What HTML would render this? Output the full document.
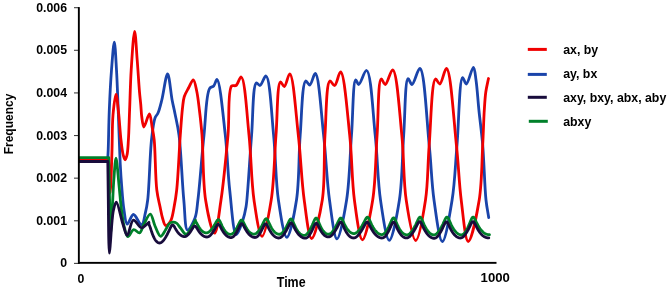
<!DOCTYPE html>
<html><head><meta charset="utf-8"><style>
html,body{margin:0;padding:0;background:#fff;}
body{width:670px;height:291px;overflow:hidden;}
svg{display:block;will-change:transform;}
text{font-family:"Liberation Sans",sans-serif;fill:#000;}
</style></head><body>
<svg width="670" height="291" viewBox="0 0 670 291">
<rect width="670" height="291" fill="#fff"/>
<g fill="none" stroke-width="2.8" stroke-linejoin="round" stroke-linecap="round">
<path d="M79.50,161.00 C88.87,161.00 98.23,161.00 107.60,161.00 L107.60,161.00 C107.80,157.33 108.00,154.81 108.20,150.00 C108.58,140.83 108.75,123.33 109.30,110.00 C109.85,96.66 110.56,82.11 111.50,70.00 C112.29,59.88 113.47,42.19 114.30,42.20 C115.13,42.21 115.89,59.89 116.50,70.00 C117.24,82.12 117.71,97.62 118.20,110.00 C118.62,120.72 118.93,130.46 119.30,140.00 C119.63,148.71 119.89,157.13 120.30,165.00 C120.67,172.04 121.03,177.97 121.60,185.00 C122.23,192.87 122.86,202.87 124.00,210.00 C124.87,215.43 125.47,223.90 127.20,224.20 C128.74,224.47 131.10,214.61 133.40,214.50 C135.87,214.38 139.62,225.36 141.60,225.00 C143.47,224.67 144.21,217.68 145.20,213.70 C146.28,209.39 146.94,206.21 147.70,200.00 C149.28,187.10 149.83,155.06 151.50,140.00 C152.52,130.83 153.31,122.64 155.00,118.00 C155.86,115.63 157.07,115.13 158.00,113.00 C159.42,109.75 160.49,105.10 161.80,100.00 C163.64,92.84 165.88,73.96 167.60,74.00 C169.31,74.04 170.70,92.72 172.10,100.00 C173.12,105.30 173.99,108.63 175.00,113.70 C176.26,120.01 177.82,125.93 179.00,135.00 C181.05,150.73 182.07,182.49 183.80,200.00 C184.98,211.93 184.83,229.41 187.50,230.00 C189.33,230.40 193.27,222.60 195.00,218.00 C196.96,212.78 196.90,207.88 197.90,200.00 C199.80,185.08 201.87,154.84 204.00,135.00 C205.80,118.19 205.91,94.23 209.60,88.50 C210.78,86.67 212.55,87.25 213.70,86.00 C215.12,84.46 215.93,79.33 217.00,79.50 C219.98,79.98 223.18,116.51 225.30,135.00 C227.40,153.34 227.73,172.65 229.70,190.00 C231.49,205.70 233.19,234.25 236.30,234.70 C238.10,234.96 240.98,225.67 242.60,221.00 C244.19,216.43 245.16,211.92 246.00,207.00 C246.91,201.64 247.08,197.29 247.70,190.00 C248.82,176.90 250.14,153.07 251.60,135.00 C253.02,117.42 252.68,84.72 256.30,83.00 C257.36,82.50 258.76,85.76 260.00,85.50 C261.97,85.09 264.27,75.62 266.00,76.00 C269.98,76.88 271.56,114.83 273.60,135.00 C275.74,156.11 275.64,181.40 278.40,200.00 C280.52,214.27 283.79,237.35 286.80,237.40 C289.82,237.45 294.26,214.30 296.50,200.00 C299.41,181.43 298.56,155.65 300.20,135.00 C301.70,116.15 302.07,82.32 305.70,81.00 C306.88,80.57 308.49,85.23 309.80,85.00 C311.76,84.65 313.65,73.24 315.30,73.50 C318.95,74.07 321.25,114.19 323.60,135.00 C326.01,156.34 326.83,181.17 329.50,200.00 C331.58,214.65 334.16,238.73 337.00,238.80 C339.86,238.87 344.24,214.70 346.60,200.00 C349.61,181.22 349.93,155.78 351.50,135.00 C352.95,115.85 352.97,80.49 355.70,79.80 C356.57,79.58 357.50,84.53 358.70,84.50 C360.74,84.44 364.37,70.07 366.60,70.50 C371.09,71.37 372.88,113.43 375.20,135.00 C377.52,156.60 377.67,180.98 380.50,200.00 C382.76,215.14 386.16,240.35 389.30,240.40 C392.45,240.45 397.02,215.18 399.40,200.00 C402.38,181.01 402.19,155.88 403.70,135.00 C405.10,115.56 404.98,79.52 408.10,78.70 C409.20,78.41 410.57,84.60 412.00,84.50 C414.29,84.35 417.64,68.11 419.90,68.50 C424.60,69.30 426.76,121.58 429.20,145.00 C431.27,164.82 431.57,183.02 434.00,200.00 C436.13,214.87 439.29,241.45 442.30,241.50 C445.32,241.55 449.69,214.90 452.10,200.00 C454.84,183.05 455.34,164.26 457.00,145.00 C458.83,123.70 459.32,78.45 462.60,77.70 C463.68,77.45 464.96,84.09 466.30,84.00 C468.41,83.86 471.76,67.14 473.40,67.30 C474.79,67.44 475.23,74.85 476.00,80.00 C477.18,87.86 477.83,99.62 478.90,110.00 C480.05,121.22 481.61,132.01 482.70,145.00 C484.07,161.26 484.59,186.80 486.00,200.00 C486.80,207.48 487.80,211.67 488.70,217.50" stroke="#1a44aa"/>
<path d="M79.50,159.50 C89.17,159.50 98.83,159.50 108.50,159.50 L108.50,159.50 C108.87,168.00 109.24,178.90 109.60,185.00 C109.80,188.42 110.00,193.00 110.20,193.00 C110.46,193.00 110.75,185.23 111.00,180.00 C111.38,172.06 111.68,160.39 112.00,150.00 C112.35,138.78 112.12,125.09 113.00,115.00 C113.68,107.24 115.05,94.50 116.00,94.50 C116.88,94.50 117.74,105.47 118.50,112.00 C119.45,120.23 120.07,132.12 121.00,140.00 C121.68,145.79 122.24,151.43 123.20,155.00 C123.76,157.09 124.47,159.80 125.10,159.80 C125.73,159.80 126.50,157.09 127.00,155.00 C127.85,151.43 128.01,145.86 128.40,140.00 C128.95,131.72 129.17,120.72 129.60,110.00 C130.10,97.62 130.36,83.21 131.20,70.00 C132.03,56.98 133.53,31.30 134.60,31.30 C135.52,31.30 136.40,50.17 137.20,60.00 C138.04,70.37 138.79,83.70 139.50,92.00 C139.96,97.30 140.41,100.75 140.80,105.00 C141.17,109.08 141.24,113.20 141.80,117.00 C142.31,120.50 142.80,126.89 143.90,127.00 C145.19,127.12 148.01,113.86 149.40,114.00 C150.77,114.13 151.39,123.08 152.20,127.50 C152.98,131.74 153.61,134.42 154.20,140.00 C155.37,151.09 155.29,177.65 156.80,190.00 C157.70,197.37 159.15,202.41 160.20,207.50 C161.02,211.45 161.53,214.83 162.50,218.00 C163.34,220.75 164.16,224.99 165.50,225.50 C166.36,225.83 167.61,224.81 168.50,224.00 C169.61,222.99 170.50,221.45 171.30,219.50 C172.52,216.54 173.17,211.89 174.00,207.50 C175.00,202.23 175.88,197.48 176.70,190.00 C178.15,176.80 179.19,150.10 180.30,135.00 C181.08,124.41 181.66,115.10 182.50,108.00 C183.05,103.35 183.17,100.02 184.30,96.50 C185.35,93.23 187.25,90.36 188.80,87.50 C190.26,84.81 192.04,79.65 193.30,79.80 C194.75,79.97 195.76,86.73 196.70,91.00 C197.91,96.46 198.57,103.22 199.40,110.00 C200.35,117.75 201.18,124.70 202.00,135.00 C203.32,151.58 202.73,182.06 205.60,200.00 C207.69,213.03 211.93,233.29 214.50,233.20 C217.05,233.11 219.04,212.96 221.00,200.00 C223.73,181.99 226.18,155.15 228.00,135.00 C229.58,117.53 227.57,90.20 231.60,86.00 C232.81,84.74 234.66,86.36 236.00,85.50 C238.01,84.22 239.66,76.68 241.20,77.00 C244.93,77.79 246.90,115.09 249.00,135.00 C251.22,156.02 251.27,181.55 254.00,200.00 C256.06,213.93 259.14,236.26 262.00,236.30 C264.87,236.34 268.93,213.96 271.20,200.00 C274.19,181.58 274.39,155.56 276.00,135.00 C277.46,116.43 277.12,83.07 280.40,82.00 C281.50,81.64 283.04,86.69 284.30,86.50 C286.22,86.20 288.12,73.57 289.80,73.80 C293.34,74.28 295.92,114.26 298.30,135.00 C300.75,156.31 301.55,181.21 304.20,200.00 C306.26,214.56 308.60,238.38 311.60,238.50 C314.63,238.62 319.99,214.66 322.30,200.00 C325.25,181.30 323.64,155.65 325.00,135.00 C326.25,116.15 326.12,82.42 329.90,81.00 C331.21,80.51 333.13,85.79 334.60,85.50 C336.82,85.06 338.78,71.75 340.60,72.00 C344.39,72.52 347.40,113.79 349.70,135.00 C352.02,156.46 351.82,181.05 354.40,200.00 C356.44,214.96 359.36,239.72 362.40,239.80 C365.46,239.88 370.27,215.01 372.70,200.00 C375.76,181.10 375.63,155.86 377.10,135.00 C378.46,115.64 377.95,79.95 381.20,79.00 C382.34,78.67 383.84,84.63 385.30,84.50 C387.55,84.30 390.55,69.44 392.70,69.80 C397.00,70.51 399.55,113.24 401.80,135.00 C404.04,156.64 403.35,180.99 406.20,200.00 C408.48,215.19 412.48,240.49 415.70,240.50 C418.92,240.51 423.25,214.63 425.50,200.00 C428.08,183.17 427.64,164.16 429.20,145.00 C430.91,123.99 431.54,80.26 435.50,79.00 C436.75,78.60 438.38,84.22 439.80,84.00 C442.07,83.65 444.49,68.22 446.50,68.50 C450.80,69.10 453.86,121.57 456.40,145.00 C458.55,164.82 459.03,183.00 461.20,200.00 C463.10,214.85 465.22,241.36 468.20,241.50 C471.21,241.64 476.77,214.93 479.20,200.00 C481.95,183.08 481.81,161.27 482.70,145.00 C483.41,132.02 483.67,119.74 484.30,110.00 C484.75,103.01 485.02,97.55 485.80,92.00 C486.48,87.16 487.60,83.00 488.50,78.50" stroke="#f00000"/>
<path d="M79.50,157.60 C89.27,157.60 99.03,157.60 108.80,157.60 L108.80,157.60 C109.07,171.73 109.27,186.75 109.60,200.00 C109.89,211.69 110.10,232.99 110.60,233.00 C111.02,233.01 111.70,218.18 112.20,210.00 C112.77,200.67 113.09,189.20 113.80,180.00 C114.41,172.15 115.19,158.20 116.00,158.20 C116.90,158.20 118.07,176.22 119.00,185.00 C119.90,193.48 120.48,202.36 121.50,210.00 C122.37,216.51 123.15,223.17 124.50,228.00 C125.46,231.42 126.36,236.25 127.90,236.50 C129.43,236.75 131.60,229.98 133.70,229.60 C135.51,229.28 137.88,233.39 139.50,232.90 C141.47,232.30 142.29,227.00 144.00,224.00 C145.85,220.74 148.49,213.93 150.30,214.10 C152.19,214.28 153.24,222.23 155.00,226.00 C156.69,229.61 158.67,236.14 160.60,236.30 C162.19,236.43 164.00,232.16 165.50,230.00 C166.96,227.89 167.97,224.76 169.50,223.50 C170.57,222.62 171.83,222.25 173.00,222.20 C174.16,222.16 175.40,222.48 176.50,223.20 C177.94,224.14 179.05,226.30 180.50,228.00 C182.18,229.97 184.24,234.27 186.00,234.30 C187.56,234.33 189.08,231.47 190.50,229.50 C192.30,227.00 193.83,223.30 195.50,220.20 L195.50,221.39 L195.75,221.69 L196.01,222.03 L196.26,222.40 L196.51,222.80 L196.77,223.23 L197.02,223.67 L197.27,224.13 L197.53,224.59 L197.78,225.04 L198.03,225.50 L198.29,225.94 L198.54,226.38 L198.79,226.80 L199.05,227.21 L199.30,227.61 L199.55,227.99 L199.81,228.35 L200.06,228.71 L200.31,229.04 L200.57,229.36 L200.82,229.67 L201.07,229.96 L201.33,230.23 L201.58,230.50 L201.83,230.74 L202.09,230.98 L202.34,231.20 L202.59,231.40 L202.85,231.59 L203.10,231.77 L203.35,231.94 L203.61,232.09 L203.86,232.22 L204.11,232.35 L204.37,232.46 L204.62,232.56 L204.87,232.65 L205.13,232.72 L205.38,232.78 L205.63,232.83 L205.89,232.86 L206.14,232.88 L206.39,232.88 L206.65,232.86 L206.90,232.83 L207.15,232.78 L207.41,232.71 L207.66,232.62 L207.92,232.52 L208.17,232.39 L208.43,232.25 L208.68,232.09 L208.93,231.92 L209.19,231.73 L209.44,231.52 L209.70,231.30 L209.95,231.07 L210.21,230.82 L210.46,230.56 L210.72,230.28 L210.97,230.00 L211.22,229.70 L211.48,229.39 L211.73,229.07 L211.99,228.74 L212.24,228.40 L212.50,228.05 L212.75,227.69 L213.00,227.32 L213.26,226.94 L213.51,226.56 L213.77,226.16 L214.02,225.75 L214.28,225.34 L214.53,224.91 L214.78,224.48 L215.04,224.04 L215.29,223.59 L215.55,223.14 L215.80,222.69 L216.06,222.25 L216.31,221.81 L216.57,221.38 L216.82,220.98 L217.07,220.61 L217.33,220.28 L217.58,220.01 L217.84,219.81 L218.09,219.68 L218.35,219.64 L218.60,219.69 L218.85,219.82 L219.11,220.04 L219.36,220.35 L219.61,220.72 L219.87,221.16 L220.12,221.64 L220.37,222.16 L220.62,222.71 L220.88,223.27 L221.13,223.83 L221.38,224.39 L221.64,224.94 L221.89,225.49 L222.14,226.02 L222.40,226.53 L222.65,227.03 L222.90,227.51 L223.16,227.98 L223.41,228.42 L223.66,228.85 L223.91,229.26 L224.17,229.66 L224.42,230.03 L224.67,230.39 L224.93,230.74 L225.18,231.07 L225.43,231.38 L225.69,231.67 L225.94,231.95 L226.19,232.21 L226.44,232.46 L226.70,232.69 L226.95,232.90 L227.20,233.10 L227.46,233.29 L227.71,233.46 L227.96,233.62 L228.22,233.76 L228.47,233.88 L228.72,233.99 L228.98,234.09 L229.23,234.17 L229.48,234.24 L229.73,234.29 L229.99,234.32 L230.24,234.34 L230.49,234.33 L230.75,234.31 L231.00,234.27 L231.25,234.20 L231.50,234.12 L231.76,234.01 L232.01,233.88 L232.26,233.72 L232.51,233.55 L232.77,233.35 L233.02,233.13 L233.27,232.89 L233.52,232.64 L233.78,232.36 L234.03,232.07 L234.28,231.76 L234.53,231.44 L234.79,231.10 L235.04,230.74 L235.29,230.37 L235.54,229.99 L235.80,229.59 L236.05,229.18 L236.30,228.76 L236.55,228.33 L236.80,227.88 L237.06,227.42 L237.31,226.95 L237.56,226.46 L237.81,225.97 L238.07,225.47 L238.32,224.95 L238.57,224.44 L238.82,223.91 L239.08,223.39 L239.33,222.88 L239.58,222.38 L239.83,221.90 L240.09,221.45 L240.34,221.04 L240.59,220.69 L240.84,220.41 L241.10,220.20 L241.35,220.08 L241.60,220.06 L241.85,220.12 L242.10,220.27 L242.35,220.51 L242.60,220.83 L242.85,221.20 L243.10,221.63 L243.35,222.10 L243.60,222.60 L243.85,223.11 L244.10,223.63 L244.35,224.15 L244.60,224.66 L244.85,225.17 L245.10,225.67 L245.35,226.15 L245.60,226.62 L245.85,227.08 L246.10,227.52 L246.35,227.95 L246.60,228.36 L246.85,228.75 L247.10,229.13 L247.35,229.50 L247.60,229.85 L247.85,230.19 L248.10,230.51 L248.35,230.82 L248.60,231.11 L248.85,231.39 L249.10,231.65 L249.35,231.90 L249.60,232.14 L249.85,232.36 L250.10,232.57 L250.35,232.77 L250.60,232.95 L250.85,233.13 L251.10,233.28 L251.35,233.43 L251.60,233.56 L251.85,233.68 L252.10,233.79 L252.35,233.88 L252.60,233.97 L252.85,234.03 L253.10,234.09 L253.35,234.13 L253.60,234.16 L253.85,234.17 L254.10,234.16 L254.35,234.14 L254.60,234.10 L254.85,234.04 L255.11,233.96 L255.36,233.85 L255.62,233.73 L255.87,233.59 L256.13,233.43 L256.38,233.24 L256.63,233.04 L256.89,232.82 L257.14,232.58 L257.40,232.33 L257.65,232.06 L257.91,231.77 L258.16,231.47 L258.42,231.16 L258.67,230.83 L258.92,230.49 L259.18,230.14 L259.43,229.77 L259.69,229.39 L259.94,229.00 L260.20,228.60 L260.45,228.18 L260.70,227.76 L260.96,227.32 L261.21,226.87 L261.47,226.42 L261.72,225.95 L261.98,225.47 L262.23,224.98 L262.48,224.48 L262.74,223.98 L262.99,223.47 L263.25,222.95 L263.50,222.43 L263.76,221.91 L264.01,221.40 L264.27,220.91 L264.52,220.43 L264.77,219.99 L265.03,219.60 L265.28,219.26 L265.54,219.00 L265.79,218.81 L266.05,218.71 L266.30,218.70 L266.55,218.79 L266.81,218.97 L267.06,219.23 L267.31,219.58 L267.57,219.98 L267.82,220.44 L268.08,220.94 L268.33,221.47 L268.58,222.01 L268.84,222.56 L269.09,223.12 L269.34,223.66 L269.60,224.21 L269.85,224.73 L270.11,225.25 L270.36,225.75 L270.61,226.24 L270.87,226.71 L271.12,227.17 L271.37,227.61 L271.63,228.04 L271.88,228.45 L272.14,228.84 L272.39,229.23 L272.64,229.59 L272.90,229.94 L273.15,230.28 L273.40,230.60 L273.66,230.91 L273.91,231.20 L274.16,231.48 L274.42,231.75 L274.67,232.00 L274.93,232.24 L275.18,232.46 L275.43,232.67 L275.69,232.87 L275.94,233.05 L276.19,233.22 L276.45,233.38 L276.70,233.53 L276.96,233.66 L277.21,233.78 L277.46,233.89 L277.72,233.98 L277.97,234.06 L278.22,234.13 L278.48,234.19 L278.73,234.23 L278.99,234.25 L279.24,234.26 L279.49,234.25 L279.75,234.23 L280.00,234.18 L280.25,234.11 L280.50,234.02 L280.76,233.91 L281.01,233.78 L281.26,233.63 L281.51,233.45 L281.77,233.26 L282.02,233.04 L282.27,232.81 L282.52,232.55 L282.77,232.28 L283.03,231.99 L283.28,231.68 L283.53,231.36 L283.78,231.02 L284.04,230.67 L284.29,230.30 L284.54,229.92 L284.79,229.53 L285.05,229.12 L285.30,228.70 L285.55,228.27 L285.80,227.82 L286.05,227.37 L286.31,226.90 L286.56,226.42 L286.81,225.93 L287.06,225.43 L287.32,224.91 L287.57,224.39 L287.82,223.86 L288.07,223.33 L288.33,222.79 L288.58,222.25 L288.83,221.72 L289.08,221.21 L289.33,220.72 L289.59,220.27 L289.84,219.86 L290.09,219.51 L290.34,219.23 L290.60,219.04 L290.85,218.94 L291.10,218.94 L291.35,219.04 L291.61,219.23 L291.86,219.52 L292.11,219.88 L292.37,220.31 L292.62,220.80 L292.88,221.33 L293.13,221.89 L293.38,222.47 L293.64,223.05 L293.89,223.64 L294.14,224.22 L294.40,224.79 L294.65,225.35 L294.91,225.90 L295.16,226.43 L295.41,226.95 L295.67,227.45 L295.92,227.93 L296.17,228.40 L296.43,228.85 L296.68,229.29 L296.94,229.71 L297.19,230.11 L297.44,230.50 L297.70,230.87 L297.95,231.23 L298.20,231.57 L298.46,231.90 L298.71,232.21 L298.96,232.50 L299.22,232.78 L299.47,233.05 L299.73,233.30 L299.98,233.54 L300.23,233.76 L300.49,233.97 L300.74,234.17 L300.99,234.35 L301.25,234.52 L301.50,234.67 L301.76,234.81 L302.01,234.94 L302.26,235.05 L302.52,235.15 L302.77,235.24 L303.02,235.31 L303.28,235.37 L303.53,235.41 L303.79,235.44 L304.04,235.44 L304.29,235.43 L304.55,235.41 L304.80,235.35 L305.05,235.28 L305.31,235.18 L305.56,235.07 L305.81,234.92 L306.07,234.76 L306.32,234.57 L306.57,234.35 L306.83,234.12 L307.08,233.86 L307.33,233.58 L307.59,233.29 L307.84,232.97 L308.09,232.64 L308.35,232.29 L308.60,231.92 L308.85,231.54 L309.11,231.14 L309.36,230.73 L309.61,230.30 L309.87,229.86 L310.12,229.41 L310.37,228.94 L310.63,228.46 L310.88,227.96 L311.13,227.45 L311.39,226.93 L311.64,226.40 L311.89,225.85 L312.15,225.30 L312.40,224.73 L312.65,224.15 L312.91,223.56 L313.16,222.97 L313.41,222.38 L313.67,221.78 L313.92,221.20 L314.17,220.63 L314.43,220.08 L314.68,219.58 L314.93,219.12 L315.19,218.73 L315.44,218.42 L315.69,218.19 L315.95,218.07 L316.20,218.05 L316.45,218.13 L316.70,218.32 L316.95,218.61 L317.20,218.98 L317.45,219.43 L317.71,219.93 L317.96,220.48 L318.21,221.06 L318.46,221.65 L318.71,222.26 L318.96,222.87 L319.21,223.47 L319.46,224.06 L319.71,224.63 L319.96,225.19 L320.22,225.74 L320.47,226.27 L320.72,226.78 L320.97,227.27 L321.22,227.74 L321.47,228.20 L321.72,228.63 L321.97,229.05 L322.22,229.46 L322.47,229.84 L322.73,230.21 L322.98,230.56 L323.23,230.89 L323.48,231.21 L323.73,231.51 L323.98,231.80 L324.23,232.06 L324.48,232.31 L324.73,232.55 L324.98,232.77 L325.24,232.97 L325.49,233.16 L325.74,233.34 L325.99,233.50 L326.24,233.64 L326.49,233.77 L326.74,233.88 L326.99,233.98 L327.24,234.07 L327.49,234.13 L327.75,234.19 L328.00,234.22 L328.25,234.24 L328.50,234.24 L328.75,234.22 L329.00,234.18 L329.25,234.13 L329.51,234.05 L329.76,233.95 L330.01,233.82 L330.27,233.68 L330.52,233.52 L330.77,233.33 L331.03,233.13 L331.28,232.91 L331.53,232.67 L331.79,232.41 L332.04,232.14 L332.29,231.85 L332.54,231.55 L332.80,231.23 L333.05,230.90 L333.30,230.56 L333.56,230.20 L333.81,229.83 L334.06,229.45 L334.32,229.06 L334.57,228.65 L334.82,228.23 L335.08,227.80 L335.33,227.36 L335.58,226.91 L335.84,226.45 L336.09,225.98 L336.34,225.50 L336.60,225.01 L336.85,224.50 L337.10,223.99 L337.36,223.47 L337.61,222.95 L337.86,222.41 L338.11,221.88 L338.37,221.35 L338.62,220.83 L338.87,220.32 L339.13,219.83 L339.38,219.38 L339.63,218.97 L339.89,218.63 L340.14,218.35 L340.39,218.15 L340.65,218.04 L340.90,218.03 L341.15,218.11 L341.40,218.28 L341.66,218.55 L341.91,218.88 L342.16,219.29 L342.41,219.75 L342.66,220.24 L342.91,220.77 L343.17,221.31 L343.42,221.86 L343.67,222.42 L343.92,222.97 L344.17,223.51 L344.43,224.03 L344.68,224.55 L344.93,225.05 L345.18,225.54 L345.43,226.01 L345.69,226.47 L345.94,226.91 L346.19,227.34 L346.44,227.75 L346.69,228.14 L346.94,228.53 L347.20,228.89 L347.45,229.24 L347.70,229.58 L347.95,229.90 L348.20,230.21 L348.46,230.50 L348.71,230.78 L348.96,231.05 L349.21,231.30 L349.46,231.54 L349.71,231.76 L349.97,231.97 L350.22,232.17 L350.47,232.35 L350.72,232.52 L350.97,232.68 L351.23,232.83 L351.48,232.96 L351.73,233.08 L351.98,233.19 L352.23,233.28 L352.49,233.37 L352.74,233.44 L352.99,233.49 L353.24,233.54 L353.49,233.57 L353.74,233.58 L354.00,233.58 L354.25,233.57 L354.50,233.53 L354.75,233.48 L355.00,233.41 L355.26,233.33 L355.51,233.22 L355.76,233.10 L356.01,232.96 L356.26,232.81 L356.52,232.63 L356.77,232.45 L357.02,232.24 L357.27,232.02 L357.52,231.79 L357.77,231.55 L358.03,231.29 L358.28,231.02 L358.53,230.74 L358.78,230.45 L359.03,230.14 L359.29,229.83 L359.54,229.50 L359.79,229.17 L360.04,228.82 L360.29,228.47 L360.55,228.10 L360.80,227.73 L361.05,227.35 L361.30,226.95 L361.55,226.55 L361.81,226.14 L362.06,225.72 L362.31,225.30 L362.56,224.86 L362.81,224.42 L363.07,223.96 L363.32,223.50 L363.57,223.03 L363.82,222.56 L364.07,222.08 L364.33,221.59 L364.58,221.10 L364.83,220.61 L365.08,220.12 L365.33,219.64 L365.58,219.18 L365.84,218.74 L366.09,218.33 L366.34,217.97 L366.59,217.67 L366.84,217.43 L367.10,217.27 L367.35,217.20 L367.60,217.22 L367.85,217.33 L368.11,217.53 L368.36,217.81 L368.61,218.17 L368.86,218.59 L369.12,219.07 L369.37,219.58 L369.62,220.12 L369.87,220.68 L370.13,221.24 L370.38,221.81 L370.63,222.38 L370.88,222.93 L371.14,223.48 L371.39,224.01 L371.64,224.54 L371.89,225.05 L372.15,225.54 L372.40,226.02 L372.65,226.49 L372.90,226.94 L373.16,227.38 L373.41,227.80 L373.66,228.21 L373.91,228.61 L374.17,228.99 L374.42,229.36 L374.67,229.72 L374.92,230.06 L375.18,230.39 L375.43,230.71 L375.68,231.01 L375.93,231.30 L376.19,231.57 L376.44,231.84 L376.69,232.09 L376.94,232.33 L377.20,232.55 L377.45,232.77 L377.70,232.97 L377.95,233.16 L378.21,233.33 L378.46,233.50 L378.71,233.65 L378.96,233.79 L379.22,233.93 L379.47,234.04 L379.72,234.15 L379.97,234.25 L380.23,234.33 L380.48,234.41 L380.73,234.47 L380.98,234.51 L381.24,234.55 L381.49,234.57 L381.74,234.57 L381.99,234.55 L382.25,234.52 L382.50,234.46 L382.75,234.39 L383.00,234.29 L383.26,234.17 L383.51,234.03 L383.76,233.86 L384.01,233.67 L384.27,233.46 L384.52,233.22 L384.77,232.97 L385.02,232.69 L385.27,232.40 L385.53,232.08 L385.78,231.75 L386.03,231.40 L386.28,231.04 L386.54,230.66 L386.79,230.26 L387.04,229.85 L387.29,229.42 L387.55,228.98 L387.80,228.53 L388.05,228.06 L388.30,227.58 L388.55,227.09 L388.81,226.58 L389.06,226.06 L389.31,225.53 L389.56,224.99 L389.82,224.43 L390.07,223.87 L390.32,223.29 L390.57,222.72 L390.83,222.13 L391.08,221.55 L391.33,220.98 L391.58,220.42 L391.83,219.89 L392.09,219.39 L392.34,218.94 L392.59,218.55 L392.84,218.24 L393.10,218.02 L393.35,217.89 L393.60,217.87 L393.85,217.95 L394.11,218.13 L394.36,218.40 L394.61,218.76 L394.86,219.19 L395.12,219.68 L395.37,220.22 L395.62,220.78 L395.87,221.36 L396.13,221.96 L396.38,222.55 L396.63,223.14 L396.89,223.73 L397.14,224.30 L397.39,224.86 L397.64,225.40 L397.90,225.93 L398.15,226.44 L398.40,226.93 L398.65,227.41 L398.91,227.88 L399.16,228.32 L399.41,228.75 L399.67,229.17 L399.92,229.57 L400.17,229.95 L400.42,230.32 L400.68,230.67 L400.93,231.01 L401.18,231.34 L401.43,231.64 L401.69,231.94 L401.94,232.21 L402.19,232.48 L402.45,232.73 L402.70,232.96 L402.95,233.18 L403.20,233.39 L403.46,233.58 L403.71,233.76 L403.96,233.93 L404.21,234.08 L404.47,234.22 L404.72,234.34 L404.97,234.46 L405.23,234.56 L405.48,234.64 L405.73,234.72 L405.98,234.78 L406.24,234.82 L406.49,234.85 L406.74,234.86 L406.99,234.86 L407.25,234.84 L407.50,234.80 L407.75,234.74 L408.01,234.66 L408.26,234.56 L408.52,234.44 L408.77,234.30 L409.02,234.14 L409.28,233.96 L409.53,233.76 L409.79,233.54 L410.04,233.30 L410.29,233.05 L410.55,232.79 L410.80,232.50 L411.06,232.21 L411.31,231.89 L411.56,231.57 L411.82,231.23 L412.07,230.88 L412.33,230.52 L412.58,230.14 L412.83,229.76 L413.09,229.36 L413.34,228.95 L413.60,228.53 L413.85,228.10 L414.10,227.66 L414.36,227.20 L414.61,226.74 L414.87,226.27 L415.12,225.78 L415.37,225.29 L415.63,224.79 L415.88,224.28 L416.14,223.75 L416.39,223.22 L416.64,222.69 L416.90,222.14 L417.15,221.59 L417.41,221.04 L417.66,220.50 L417.91,219.96 L418.17,219.44 L418.42,218.94 L418.68,218.48 L418.93,218.07 L419.18,217.72 L419.44,217.45 L419.69,217.25 L419.95,217.16 L420.20,217.16 L420.45,217.26 L420.70,217.46 L420.95,217.75 L421.20,218.12 L421.45,218.56 L421.71,219.05 L421.96,219.59 L422.21,220.16 L422.46,220.75 L422.71,221.35 L422.96,221.95 L423.21,222.54 L423.46,223.13 L423.71,223.70 L423.96,224.27 L424.21,224.81 L424.46,225.35 L424.72,225.87 L424.97,226.37 L425.22,226.86 L425.47,227.33 L425.72,227.78 L425.97,228.22 L426.22,228.65 L426.47,229.06 L426.72,229.45 L426.97,229.83 L427.22,230.20 L427.48,230.55 L427.73,230.89 L427.98,231.21 L428.23,231.52 L428.48,231.81 L428.73,232.09 L428.98,232.35 L429.23,232.60 L429.48,232.84 L429.73,233.06 L429.98,233.27 L430.24,233.47 L430.49,233.66 L430.74,233.83 L430.99,233.98 L431.24,234.13 L431.49,234.26 L431.74,234.38 L431.99,234.49 L432.24,234.58 L432.49,234.67 L432.74,234.73 L432.99,234.79 L433.25,234.83 L433.50,234.86 L433.75,234.87 L434.00,234.86 L434.25,234.84 L434.50,234.80 L434.75,234.74 L435.00,234.66 L435.26,234.56 L435.51,234.44 L435.76,234.30 L436.01,234.14 L436.26,233.96 L436.52,233.76 L436.77,233.54 L437.02,233.30 L437.27,233.05 L437.52,232.79 L437.78,232.50 L438.03,232.21 L438.28,231.89 L438.53,231.57 L438.78,231.23 L439.04,230.88 L439.29,230.52 L439.54,230.14 L439.79,229.76 L440.04,229.36 L440.30,228.95 L440.55,228.53 L440.80,228.10 L441.05,227.66 L441.30,227.20 L441.56,226.74 L441.81,226.27 L442.06,225.78 L442.31,225.29 L442.56,224.79 L442.82,224.28 L443.07,223.75 L443.32,223.22 L443.57,222.69 L443.82,222.14 L444.08,221.59 L444.33,221.04 L444.58,220.50 L444.83,219.96 L445.08,219.44 L445.34,218.94 L445.59,218.48 L445.84,218.06 L446.09,217.71 L446.34,217.42 L446.60,217.22 L446.85,217.12 L447.10,217.11 L447.35,217.20 L447.61,217.38 L447.86,217.66 L448.11,218.01 L448.36,218.44 L448.62,218.92 L448.87,219.44 L449.12,219.99 L449.37,220.56 L449.63,221.14 L449.88,221.73 L450.13,222.31 L450.38,222.88 L450.64,223.44 L450.89,223.99 L451.14,224.53 L451.39,225.06 L451.65,225.57 L451.90,226.06 L452.15,226.54 L452.40,227.01 L452.66,227.46 L452.91,227.89 L453.16,228.32 L453.41,228.73 L453.67,229.12 L453.92,229.50 L454.17,229.87 L454.42,230.22 L454.68,230.56 L454.93,230.88 L455.18,231.20 L455.43,231.49 L455.69,231.78 L455.94,232.05 L456.19,232.31 L456.44,232.55 L456.70,232.79 L456.95,233.01 L457.20,233.21 L457.45,233.41 L457.71,233.59 L457.96,233.76 L458.21,233.92 L458.46,234.07 L458.72,234.20 L458.97,234.32 L459.22,234.43 L459.47,234.53 L459.73,234.62 L459.98,234.69 L460.23,234.76 L460.48,234.80 L460.74,234.84 L460.99,234.86 L461.24,234.86 L461.49,234.84 L461.75,234.81 L462.00,234.75 L462.25,234.67 L462.50,234.57 L462.75,234.44 L463.00,234.29 L463.25,234.12 L463.50,233.92 L463.75,233.70 L464.00,233.45 L464.25,233.18 L464.50,232.90 L464.75,232.59 L465.00,232.26 L465.25,231.91 L465.50,231.55 L465.75,231.17 L466.00,230.77 L466.25,230.35 L466.50,229.92 L466.75,229.48 L467.00,229.02 L467.25,228.54 L467.50,228.06 L467.75,227.55 L468.00,227.04 L468.25,226.51 L468.50,225.97 L468.75,225.41 L469.00,224.84 L469.25,224.26 L469.50,223.67 L469.75,223.07 L470.00,222.47 L470.25,221.86 L470.50,221.25 L470.75,220.64 L471.00,220.05 L471.25,219.48 L471.50,218.95 L471.75,218.46 L472.00,218.02 L472.25,217.66 L472.50,217.39 L472.75,217.20 L473.00,217.11 L473.25,217.12 L473.50,217.23 L473.75,217.42 L474.00,217.70 L474.25,218.05 L474.50,218.46 L474.75,218.91 L475.00,219.40 L475.25,219.91 L475.50,220.43 L475.75,220.95 L476.00,221.48 L476.25,222.00 L476.50,222.51 L476.75,223.02 L477.00,223.51 L477.25,224.00 L477.50,224.47 L477.75,224.93 L478.00,225.38 L478.25,225.82 L478.50,226.25 L478.75,226.66 L479.00,227.07 L479.25,227.46 L479.50,227.84 L479.75,228.21 L480.00,228.57 L480.25,228.91 L480.50,229.25 L480.75,229.58 L481.00,229.89 L481.25,230.19 L481.50,230.49 L481.75,230.77 L482.00,231.04 L482.25,231.30 L482.50,231.55 L482.75,231.79 L483.00,232.02 L483.25,232.24 L483.50,232.45 L483.75,232.65 L484.00,232.84 L484.25,233.02 L484.50,233.19 L484.75,233.35 L485.00,233.50 L485.25,233.64 L485.50,233.77 L485.75,233.89 L486.00,234.00 L486.25,234.11 L486.50,234.20 L486.75,234.29 L487.00,234.37 L487.25,234.44 L487.50,234.50 L487.75,234.55 L488.00,234.60 L488.25,234.64 L488.50,234.67 L488.75,234.70 L489.00,234.73 L489.25,234.74 L489.50,234.76" stroke="#00802a"/>
<path d="M79.50,161.50 C88.93,161.50 98.37,161.50 107.80,161.50 L107.80,161.50 C107.97,174.33 108.14,186.96 108.30,200.00 C108.47,213.45 108.50,231.35 108.80,241.00 C108.96,246.26 109.11,253.19 109.40,253.20 C109.66,253.21 110.06,246.93 110.40,243.00 C110.86,237.65 111.23,229.84 111.80,224.00 C112.29,218.97 112.57,213.96 113.50,210.00 C114.22,206.95 115.22,202.07 116.30,202.10 C118.09,202.14 120.84,217.91 122.90,224.00 C124.41,228.44 125.61,235.38 127.20,235.40 C129.05,235.42 130.65,220.81 133.40,220.20 C135.67,219.70 138.89,227.66 141.60,227.80 C144.05,227.92 146.47,224.13 148.90,222.30 L148.90,224.27 L149.15,224.77 L149.40,225.34 L149.65,225.95 L149.90,226.62 L150.15,227.33 L150.40,228.06 L150.65,228.81 L150.90,229.57 L151.15,230.33 L151.40,231.08 L151.65,231.82 L151.90,232.54 L152.15,233.23 L152.40,233.91 L152.65,234.56 L152.90,235.18 L153.15,235.78 L153.40,236.36 L153.65,236.91 L153.90,237.43 L154.15,237.93 L154.40,238.40 L154.65,238.85 L154.90,239.27 L155.15,239.67 L155.40,240.04 L155.65,240.39 L155.90,240.72 L156.15,241.03 L156.40,241.31 L156.65,241.57 L156.90,241.80 L157.15,242.02 L157.40,242.21 L157.65,242.38 L157.90,242.53 L158.15,242.66 L158.40,242.77 L158.65,242.86 L158.90,242.92 L159.15,242.96 L159.40,242.98 L159.65,242.98 L159.90,242.96 L160.15,242.91 L160.40,242.84 L160.66,242.74 L160.91,242.63 L161.16,242.49 L161.41,242.33 L161.66,242.15 L161.92,241.95 L162.17,241.74 L162.42,241.50 L162.67,241.25 L162.92,240.99 L163.18,240.70 L163.43,240.41 L163.68,240.09 L163.93,239.77 L164.18,239.43 L164.44,239.08 L164.69,238.72 L164.94,238.34 L165.19,237.96 L165.44,237.56 L165.70,237.15 L165.95,236.73 L166.20,236.30 L166.45,235.86 L166.70,235.40 L166.96,234.94 L167.21,234.47 L167.46,233.98 L167.71,233.49 L167.96,232.99 L168.22,232.48 L168.47,231.95 L168.72,231.42 L168.97,230.88 L169.22,230.34 L169.48,229.79 L169.73,229.24 L169.98,228.69 L170.23,228.15 L170.48,227.62 L170.74,227.11 L170.99,226.63 L171.24,226.19 L171.49,225.81 L171.74,225.49 L172.00,225.25 L172.25,225.09 L172.50,225.01 L172.75,225.02 L173.01,225.12 L173.26,225.30 L173.52,225.55 L173.77,225.86 L174.02,226.21 L174.28,226.61 L174.53,227.03 L174.79,227.47 L175.04,227.92 L175.29,228.37 L175.55,228.81 L175.80,229.25 L176.06,229.67 L176.31,230.09 L176.56,230.49 L176.82,230.88 L177.07,231.26 L177.33,231.62 L177.58,231.97 L177.83,232.31 L178.09,232.63 L178.34,232.94 L178.60,233.23 L178.85,233.51 L179.10,233.78 L179.36,234.04 L179.61,234.28 L179.87,234.51 L180.12,234.73 L180.37,234.93 L180.63,235.13 L180.88,235.31 L181.14,235.47 L181.39,235.63 L181.64,235.78 L181.90,235.91 L182.15,236.03 L182.41,236.14 L182.66,236.24 L182.91,236.33 L183.17,236.40 L183.42,236.46 L183.68,236.51 L183.93,236.55 L184.18,236.58 L184.44,236.58 L184.69,236.58 L184.95,236.56 L185.20,236.51 L185.45,236.46 L185.71,236.38 L185.96,236.28 L186.21,236.16 L186.46,236.03 L186.72,235.87 L186.97,235.70 L187.22,235.51 L187.47,235.30 L187.73,235.07 L187.98,234.83 L188.23,234.57 L188.48,234.30 L188.74,234.02 L188.99,233.72 L189.24,233.40 L189.49,233.08 L189.75,232.74 L190.00,232.39 L190.25,232.03 L190.51,231.66 L190.76,231.28 L191.01,230.88 L191.26,230.48 L191.52,230.07 L191.77,229.65 L192.02,229.23 L192.27,228.81 L192.53,228.39 L192.78,227.98 L193.03,227.59 L193.28,227.22 L193.54,226.89 L193.79,226.60 L194.04,226.36 L194.29,226.19 L194.55,226.08 L194.80,226.05 L195.05,226.09 L195.30,226.21 L195.55,226.39 L195.80,226.64 L196.05,226.94 L196.31,227.27 L196.56,227.64 L196.81,228.04 L197.06,228.44 L197.31,228.85 L197.56,229.27 L197.81,229.67 L198.06,230.08 L198.31,230.47 L198.56,230.85 L198.82,231.22 L199.07,231.58 L199.32,231.93 L199.57,232.27 L199.82,232.59 L200.07,232.90 L200.32,233.20 L200.57,233.49 L200.82,233.76 L201.07,234.02 L201.33,234.27 L201.58,234.51 L201.83,234.74 L202.08,234.96 L202.33,235.16 L202.58,235.36 L202.83,235.54 L203.08,235.71 L203.33,235.87 L203.58,236.02 L203.84,236.16 L204.09,236.29 L204.34,236.41 L204.59,236.51 L204.84,236.61 L205.09,236.70 L205.34,236.78 L205.59,236.84 L205.84,236.90 L206.09,236.94 L206.35,236.97 L206.60,236.99 L206.85,237.00 L207.10,236.99 L207.35,236.96 L207.60,236.92 L207.85,236.86 L208.11,236.78 L208.36,236.68 L208.62,236.56 L208.87,236.42 L209.13,236.26 L209.38,236.09 L209.64,235.89 L209.89,235.68 L210.15,235.45 L210.40,235.21 L210.66,234.95 L210.91,234.67 L211.17,234.39 L211.42,234.08 L211.68,233.77 L211.93,233.44 L212.19,233.10 L212.44,232.75 L212.70,232.38 L212.95,232.01 L213.20,231.62 L213.46,231.22 L213.71,230.81 L213.97,230.39 L214.22,229.96 L214.48,229.52 L214.73,229.07 L214.99,228.62 L215.24,228.16 L215.50,227.70 L215.75,227.23 L216.01,226.77 L216.26,226.33 L216.52,225.90 L216.77,225.51 L217.03,225.15 L217.28,224.84 L217.54,224.59 L217.79,224.42 L218.05,224.32 L218.30,224.30 L218.55,224.37 L218.81,224.52 L219.06,224.74 L219.31,225.04 L219.56,225.39 L219.82,225.79 L220.07,226.22 L220.32,226.68 L220.58,227.15 L220.83,227.63 L221.08,228.11 L221.33,228.59 L221.59,229.06 L221.84,229.52 L222.09,229.97 L222.35,230.40 L222.60,230.83 L222.85,231.24 L223.10,231.63 L223.36,232.01 L223.61,232.38 L223.86,232.74 L224.12,233.08 L224.37,233.40 L224.62,233.72 L224.87,234.02 L225.13,234.31 L225.38,234.59 L225.63,234.85 L225.88,235.10 L226.14,235.34 L226.39,235.56 L226.64,235.77 L226.90,235.97 L227.15,236.16 L227.40,236.34 L227.65,236.50 L227.91,236.66 L228.16,236.80 L228.41,236.93 L228.67,237.05 L228.92,237.15 L229.17,237.25 L229.42,237.33 L229.68,237.41 L229.93,237.47 L230.18,237.51 L230.44,237.55 L230.69,237.56 L230.94,237.57 L231.19,237.55 L231.45,237.51 L231.70,237.46 L231.95,237.38 L232.21,237.28 L232.46,237.16 L232.72,237.01 L232.97,236.84 L233.22,236.65 L233.48,236.43 L233.73,236.20 L233.98,235.93 L234.24,235.65 L234.49,235.35 L234.75,235.03 L235.00,234.70 L235.25,234.34 L235.51,233.97 L235.76,233.58 L236.02,233.18 L236.27,232.76 L236.52,232.33 L236.78,231.88 L237.03,231.42 L237.28,230.94 L237.54,230.45 L237.79,229.95 L238.05,229.44 L238.30,228.91 L238.55,228.38 L238.81,227.85 L239.06,227.31 L239.32,226.78 L239.57,226.25 L239.82,225.75 L240.08,225.28 L240.33,224.84 L240.58,224.47 L240.84,224.15 L241.09,223.91 L241.35,223.76 L241.60,223.69 L241.85,223.71 L242.11,223.82 L242.36,224.02 L242.61,224.28 L242.87,224.61 L243.12,225.00 L243.38,225.42 L243.63,225.87 L243.88,226.34 L244.14,226.82 L244.39,227.30 L244.64,227.78 L244.90,228.25 L245.15,228.71 L245.40,229.17 L245.66,229.61 L245.91,230.04 L246.16,230.45 L246.42,230.86 L246.67,231.25 L246.93,231.63 L247.18,231.99 L247.43,232.35 L247.69,232.69 L247.94,233.02 L248.19,233.33 L248.45,233.63 L248.70,233.93 L248.95,234.20 L249.21,234.47 L249.46,234.73 L249.71,234.97 L249.97,235.20 L250.22,235.42 L250.47,235.63 L250.73,235.83 L250.98,236.01 L251.24,236.19 L251.49,236.35 L251.74,236.50 L252.00,236.64 L252.25,236.77 L252.50,236.89 L252.76,237.00 L253.01,237.10 L253.26,237.19 L253.52,237.27 L253.77,237.34 L254.03,237.39 L254.28,237.43 L254.53,237.46 L254.79,237.48 L255.04,237.48 L255.29,237.46 L255.55,237.42 L255.80,237.37 L256.05,237.29 L256.30,237.19 L256.55,237.07 L256.81,236.92 L257.06,236.76 L257.31,236.56 L257.56,236.35 L257.81,236.11 L258.06,235.86 L258.31,235.58 L258.56,235.28 L258.82,234.97 L259.07,234.63 L259.32,234.28 L259.57,233.92 L259.82,233.53 L260.07,233.13 L260.32,232.72 L260.57,232.29 L260.83,231.85 L261.08,231.39 L261.33,230.92 L261.58,230.44 L261.83,229.94 L262.08,229.44 L262.33,228.92 L262.58,228.40 L262.84,227.87 L263.09,227.34 L263.34,226.81 L263.59,226.30 L263.84,225.80 L264.09,225.34 L264.34,224.92 L264.59,224.55 L264.85,224.24 L265.10,224.02 L265.35,223.88 L265.60,223.82 L265.85,223.86 L266.10,223.99 L266.35,224.20 L266.60,224.49 L266.85,224.84 L267.11,225.24 L267.36,225.69 L267.61,226.16 L267.86,226.65 L268.11,227.14 L268.36,227.64 L268.61,228.14 L268.86,228.63 L269.11,229.11 L269.36,229.58 L269.61,230.04 L269.87,230.48 L270.12,230.91 L270.37,231.33 L270.62,231.73 L270.87,232.12 L271.12,232.50 L271.37,232.86 L271.62,233.21 L271.87,233.55 L272.12,233.87 L272.37,234.18 L272.63,234.48 L272.88,234.76 L273.13,235.03 L273.38,235.29 L273.63,235.54 L273.88,235.77 L274.13,235.99 L274.38,236.20 L274.63,236.40 L274.88,236.59 L275.13,236.76 L275.39,236.92 L275.64,237.07 L275.89,237.21 L276.14,237.34 L276.39,237.46 L276.64,237.56 L276.89,237.66 L277.14,237.74 L277.39,237.81 L277.64,237.88 L277.89,237.92 L278.15,237.96 L278.40,237.98 L278.65,237.99 L278.90,237.98 L279.15,237.96 L279.40,237.91 L279.65,237.85 L279.91,237.77 L280.16,237.68 L280.42,237.56 L280.67,237.42 L280.93,237.26 L281.18,237.09 L281.43,236.89 L281.69,236.68 L281.94,236.45 L282.20,236.21 L282.45,235.95 L282.71,235.67 L282.96,235.39 L283.22,235.08 L283.47,234.77 L283.72,234.44 L283.98,234.10 L284.23,233.75 L284.49,233.38 L284.74,233.00 L285.00,232.62 L285.25,232.22 L285.50,231.81 L285.76,231.39 L286.01,230.96 L286.27,230.52 L286.52,230.07 L286.78,229.61 L287.03,229.14 L287.28,228.66 L287.54,228.18 L287.79,227.68 L288.05,227.18 L288.30,226.68 L288.56,226.18 L288.81,225.69 L289.07,225.21 L289.32,224.75 L289.57,224.33 L289.83,223.94 L290.08,223.61 L290.34,223.34 L290.59,223.14 L290.85,223.02 L291.10,223.00 L291.35,223.06 L291.61,223.20 L291.86,223.42 L292.11,223.72 L292.36,224.08 L292.62,224.49 L292.87,224.93 L293.12,225.40 L293.37,225.89 L293.63,226.39 L293.88,226.89 L294.13,227.39 L294.38,227.88 L294.64,228.37 L294.89,228.84 L295.14,229.31 L295.39,229.76 L295.65,230.20 L295.90,230.62 L296.15,231.03 L296.40,231.43 L296.66,231.82 L296.91,232.20 L297.16,232.56 L297.41,232.91 L297.67,233.25 L297.92,233.58 L298.17,233.90 L298.42,234.20 L298.68,234.49 L298.93,234.77 L299.18,235.04 L299.43,235.30 L299.69,235.54 L299.94,235.78 L300.19,236.00 L300.44,236.21 L300.70,236.41 L300.95,236.60 L301.20,236.78 L301.45,236.94 L301.71,237.10 L301.96,237.25 L302.21,237.38 L302.46,237.51 L302.72,237.62 L302.97,237.73 L303.22,237.83 L303.47,237.91 L303.73,237.98 L303.98,238.05 L304.23,238.10 L304.48,238.14 L304.74,238.17 L304.99,238.18 L305.24,238.18 L305.49,238.16 L305.75,238.12 L306.00,238.06 L306.25,237.98 L306.51,237.87 L306.76,237.74 L307.02,237.59 L307.27,237.42 L307.53,237.22 L307.79,236.99 L308.04,236.75 L308.30,236.48 L308.55,236.19 L308.81,235.88 L309.06,235.55 L309.31,235.21 L309.57,234.84 L309.82,234.46 L310.08,234.06 L310.33,233.64 L310.59,233.21 L310.84,232.77 L311.10,232.30 L311.36,231.83 L311.61,231.34 L311.87,230.84 L312.12,230.32 L312.38,229.79 L312.63,229.25 L312.88,228.70 L313.14,228.14 L313.39,227.57 L313.65,227.01 L313.90,226.45 L314.16,225.90 L314.41,225.38 L314.67,224.88 L314.93,224.44 L315.18,224.04 L315.44,223.72 L315.69,223.48 L315.94,223.33 L316.20,223.27 L316.45,223.31 L316.70,223.44 L316.95,223.66 L317.20,223.96 L317.45,224.33 L317.71,224.75 L317.96,225.21 L318.21,225.70 L318.46,226.20 L318.71,226.72 L318.96,227.24 L319.21,227.75 L319.46,228.26 L319.71,228.75 L319.96,229.23 L320.22,229.70 L320.47,230.15 L320.72,230.58 L320.97,231.01 L321.22,231.41 L321.47,231.80 L321.72,232.18 L321.97,232.54 L322.22,232.88 L322.47,233.21 L322.73,233.53 L322.98,233.83 L323.23,234.11 L323.48,234.38 L323.73,234.64 L323.98,234.88 L324.23,235.11 L324.48,235.33 L324.73,235.53 L324.98,235.72 L325.24,235.89 L325.49,236.06 L325.74,236.20 L325.99,236.34 L326.24,236.46 L326.49,236.57 L326.74,236.67 L326.99,236.76 L327.24,236.83 L327.49,236.88 L327.75,236.93 L328.00,236.96 L328.25,236.97 L328.50,236.97 L328.75,236.95 L329.00,236.91 L329.25,236.86 L329.51,236.78 L329.76,236.69 L330.01,236.58 L330.27,236.45 L330.52,236.29 L330.77,236.12 L331.03,235.94 L331.28,235.73 L331.53,235.51 L331.79,235.28 L332.04,235.03 L332.29,234.76 L332.54,234.48 L332.80,234.19 L333.05,233.88 L333.30,233.57 L333.56,233.24 L333.81,232.90 L334.06,232.54 L334.32,232.18 L334.57,231.81 L334.82,231.42 L335.08,231.03 L335.33,230.62 L335.58,230.21 L335.84,229.78 L336.09,229.35 L336.34,228.90 L336.60,228.45 L336.85,227.98 L337.10,227.51 L337.36,227.03 L337.61,226.55 L337.86,226.06 L338.11,225.57 L338.37,225.08 L338.62,224.60 L338.87,224.14 L339.13,223.70 L339.38,223.29 L339.63,222.93 L339.89,222.62 L340.14,222.39 L340.39,222.24 L340.65,222.17 L340.90,222.20 L341.15,222.32 L341.41,222.53 L341.66,222.82 L341.92,223.20 L342.17,223.63 L342.42,224.12 L342.68,224.65 L342.93,225.20 L343.18,225.77 L343.44,226.35 L343.69,226.92 L343.95,227.49 L344.20,228.05 L344.45,228.60 L344.71,229.13 L344.96,229.65 L345.22,230.15 L345.47,230.63 L345.72,231.10 L345.98,231.55 L346.23,231.99 L346.48,232.41 L346.74,232.81 L346.99,233.20 L347.25,233.57 L347.50,233.92 L347.75,234.26 L348.01,234.58 L348.26,234.89 L348.52,235.18 L348.77,235.45 L349.02,235.71 L349.28,235.96 L349.53,236.19 L349.78,236.41 L350.04,236.61 L350.29,236.80 L350.55,236.97 L350.80,237.13 L351.05,237.28 L351.31,237.41 L351.56,237.53 L351.82,237.63 L352.07,237.72 L352.32,237.80 L352.58,237.87 L352.83,237.92 L353.08,237.95 L353.34,237.97 L353.59,237.98 L353.85,237.96 L354.10,237.94 L354.35,237.89 L354.60,237.83 L354.86,237.75 L355.11,237.65 L355.36,237.53 L355.61,237.40 L355.86,237.25 L356.12,237.08 L356.37,236.90 L356.62,236.71 L356.87,236.50 L357.12,236.28 L357.38,236.04 L357.63,235.80 L357.88,235.54 L358.13,235.27 L358.38,234.99 L358.63,234.70 L358.89,234.39 L359.14,234.08 L359.39,233.76 L359.64,233.43 L359.89,233.09 L360.15,232.74 L360.40,232.38 L360.65,232.01 L360.90,231.64 L361.15,231.25 L361.41,230.86 L361.66,230.46 L361.91,230.05 L362.16,229.63 L362.41,229.21 L362.67,228.77 L362.92,228.33 L363.17,227.88 L363.42,227.43 L363.67,226.96 L363.93,226.50 L364.18,226.03 L364.43,225.56 L364.68,225.09 L364.93,224.63 L365.18,224.18 L365.44,223.75 L365.69,223.36 L365.94,223.00 L366.19,222.70 L366.44,222.46 L366.70,222.29 L366.95,222.19 L367.20,222.18 L367.45,222.25 L367.70,222.41 L367.95,222.64 L368.21,222.94 L368.46,223.30 L368.71,223.71 L368.96,224.15 L369.21,224.62 L369.46,225.11 L369.72,225.60 L369.97,226.10 L370.22,226.59 L370.47,227.08 L370.72,227.57 L370.97,228.04 L371.23,228.50 L371.48,228.95 L371.73,229.39 L371.98,229.82 L372.23,230.23 L372.48,230.64 L372.74,231.03 L372.99,231.41 L373.24,231.78 L373.49,232.14 L373.74,232.48 L373.99,232.82 L374.25,233.14 L374.50,233.46 L374.75,233.76 L375.00,234.05 L375.25,234.33 L375.50,234.60 L375.75,234.86 L376.01,235.10 L376.26,235.34 L376.51,235.57 L376.76,235.78 L377.01,235.99 L377.26,236.18 L377.52,236.37 L377.77,236.54 L378.02,236.70 L378.27,236.86 L378.52,237.00 L378.77,237.14 L379.03,237.26 L379.28,237.38 L379.53,237.49 L379.78,237.58 L380.03,237.67 L380.28,237.75 L380.54,237.82 L380.79,237.88 L381.04,237.92 L381.29,237.96 L381.54,237.98 L381.79,237.99 L382.05,237.99 L382.30,237.97 L382.55,237.93 L382.80,237.88 L383.05,237.80 L383.30,237.70 L383.55,237.58 L383.80,237.44 L384.06,237.27 L384.31,237.08 L384.56,236.87 L384.81,236.64 L385.06,236.39 L385.31,236.11 L385.56,235.82 L385.81,235.51 L386.07,235.18 L386.32,234.83 L386.57,234.47 L386.82,234.10 L387.07,233.70 L387.32,233.30 L387.57,232.87 L387.82,232.44 L388.07,231.99 L388.33,231.52 L388.58,231.05 L388.83,230.56 L389.08,230.06 L389.33,229.54 L389.58,229.02 L389.83,228.48 L390.08,227.93 L390.33,227.38 L390.59,226.81 L390.84,226.25 L391.09,225.68 L391.34,225.13 L391.59,224.58 L391.84,224.06 L392.09,223.58 L392.34,223.14 L392.60,222.76 L392.85,222.46 L393.10,222.24 L393.35,222.12 L393.60,222.09 L393.85,222.17 L394.11,222.34 L394.36,222.61 L394.61,222.96 L394.86,223.37 L395.12,223.85 L395.37,224.36 L395.62,224.91 L395.88,225.48 L396.13,226.05 L396.38,226.62 L396.63,227.19 L396.89,227.76 L397.14,228.30 L397.39,228.84 L397.65,229.36 L397.90,229.87 L398.15,230.36 L398.40,230.83 L398.66,231.28 L398.91,231.72 L399.16,232.15 L399.42,232.56 L399.67,232.95 L399.92,233.32 L400.17,233.68 L400.43,234.03 L400.68,234.36 L400.93,234.67 L401.18,234.97 L401.44,235.26 L401.69,235.52 L401.94,235.78 L402.20,236.02 L402.45,236.24 L402.70,236.45 L402.95,236.65 L403.21,236.83 L403.46,237.00 L403.71,237.16 L403.97,237.30 L404.22,237.43 L404.47,237.54 L404.72,237.65 L404.98,237.74 L405.23,237.81 L405.48,237.87 L405.74,237.92 L405.99,237.95 L406.24,237.97 L406.49,237.97 L406.75,237.96 L407.00,237.92 L407.25,237.87 L407.50,237.80 L407.75,237.72 L408.00,237.61 L408.25,237.48 L408.51,237.34 L408.76,237.18 L409.01,237.00 L409.26,236.81 L409.51,236.60 L409.76,236.38 L410.01,236.14 L410.26,235.89 L410.51,235.63 L410.76,235.35 L411.02,235.06 L411.27,234.76 L411.52,234.45 L411.77,234.12 L412.02,233.79 L412.27,233.45 L412.52,233.09 L412.77,232.73 L413.02,232.35 L413.27,231.97 L413.53,231.58 L413.78,231.17 L414.03,230.76 L414.28,230.34 L414.53,229.91 L414.78,229.47 L415.03,229.03 L415.28,228.57 L415.53,228.11 L415.78,227.63 L416.04,227.15 L416.29,226.67 L416.54,226.17 L416.79,225.68 L417.04,225.18 L417.29,224.69 L417.54,224.20 L417.79,223.73 L418.04,223.28 L418.29,222.87 L418.55,222.49 L418.80,222.18 L419.05,221.93 L419.30,221.75 L419.55,221.66 L419.80,221.66 L420.05,221.74 L420.30,221.92 L420.56,222.17 L420.81,222.50 L421.06,222.90 L421.31,223.34 L421.56,223.82 L421.81,224.33 L422.06,224.85 L422.32,225.39 L422.57,225.93 L422.82,226.46 L423.07,226.99 L423.32,227.51 L423.57,228.02 L423.83,228.52 L424.08,229.00 L424.33,229.47 L424.58,229.93 L424.83,230.38 L425.08,230.81 L425.34,231.23 L425.59,231.63 L425.84,232.02 L426.09,232.40 L426.34,232.77 L426.59,233.13 L426.85,233.47 L427.10,233.80 L427.35,234.11 L427.60,234.42 L427.85,234.71 L428.11,234.99 L428.36,235.26 L428.61,235.51 L428.86,235.76 L429.11,235.99 L429.36,236.21 L429.62,236.42 L429.87,236.62 L430.12,236.80 L430.37,236.98 L430.62,237.14 L430.87,237.30 L431.12,237.44 L431.38,237.57 L431.63,237.69 L431.88,237.80 L432.13,237.90 L432.38,237.99 L432.63,238.07 L432.89,238.14 L433.14,238.19 L433.39,238.24 L433.64,238.27 L433.89,238.28 L434.14,238.29 L434.40,238.27 L434.65,238.24 L434.90,238.19 L435.15,238.13 L435.40,238.04 L435.65,237.93 L435.90,237.80 L436.15,237.65 L436.40,237.47 L436.65,237.28 L436.90,237.07 L437.15,236.84 L437.40,236.59 L437.65,236.32 L437.90,236.03 L438.15,235.73 L438.40,235.42 L438.65,235.08 L438.90,234.74 L439.15,234.38 L439.40,234.00 L439.65,233.62 L439.90,233.22 L440.15,232.81 L440.40,232.38 L440.65,231.94 L440.90,231.50 L441.15,231.04 L441.40,230.57 L441.65,230.08 L441.90,229.59 L442.15,229.09 L442.40,228.57 L442.65,228.05 L442.90,227.51 L443.15,226.97 L443.40,226.43 L443.65,225.88 L443.90,225.33 L444.15,224.79 L444.40,224.26 L444.65,223.76 L444.90,223.29 L445.15,222.87 L445.40,222.50 L445.65,222.20 L445.90,221.98 L446.15,221.86 L446.40,221.82 L446.65,221.88 L446.90,222.04 L447.16,222.28 L447.41,222.60 L447.66,222.98 L447.91,223.42 L448.16,223.90 L448.41,224.41 L448.67,224.94 L448.92,225.48 L449.17,226.02 L449.42,226.56 L449.67,227.09 L449.92,227.61 L450.18,228.12 L450.43,228.62 L450.68,229.11 L450.93,229.58 L451.18,230.04 L451.43,230.48 L451.69,230.91 L451.94,231.33 L452.19,231.73 L452.44,232.12 L452.69,232.50 L452.94,232.86 L453.20,233.21 L453.45,233.55 L453.70,233.87 L453.95,234.18 L454.20,234.48 L454.46,234.76 L454.71,235.03 L454.96,235.29 L455.21,235.54 L455.46,235.77 L455.71,235.99 L455.97,236.20 L456.22,236.40 L456.47,236.59 L456.72,236.76 L456.97,236.92 L457.22,237.07 L457.48,237.21 L457.73,237.34 L457.98,237.46 L458.23,237.56 L458.48,237.66 L458.73,237.74 L458.99,237.81 L459.24,237.88 L459.49,237.92 L459.74,237.96 L459.99,237.98 L460.24,237.99 L460.50,237.98 L460.75,237.95 L461.00,237.91 L461.25,237.85 L461.50,237.77 L461.75,237.67 L462.00,237.55 L462.25,237.41 L462.50,237.26 L462.75,237.08 L463.00,236.88 L463.25,236.67 L463.50,236.44 L463.75,236.19 L464.00,235.93 L464.25,235.65 L464.50,235.36 L464.75,235.06 L465.00,234.74 L465.25,234.41 L465.50,234.07 L465.75,233.71 L466.00,233.34 L466.25,232.96 L466.50,232.57 L466.75,232.17 L467.00,231.76 L467.25,231.34 L467.50,230.90 L467.75,230.46 L468.00,230.01 L468.25,229.54 L468.50,229.07 L468.75,228.58 L469.00,228.09 L469.25,227.59 L469.50,227.08 L469.75,226.57 L470.00,226.04 L470.25,225.52 L470.50,225.00 L470.75,224.49 L471.00,223.99 L471.25,223.51 L471.50,223.06 L471.75,222.65 L472.00,222.30 L472.25,222.01 L472.50,221.80 L472.75,221.67 L473.00,221.63 L473.25,221.68 L473.50,221.81 L473.75,222.03 L474.00,222.32 L474.25,222.67 L474.50,223.07 L474.76,223.52 L475.01,223.99 L475.26,224.48 L475.51,224.98 L475.76,225.48 L476.01,225.98 L476.26,226.48 L476.51,226.97 L476.76,227.45 L477.01,227.92 L477.26,228.38 L477.51,228.83 L477.77,229.26 L478.02,229.69 L478.27,230.10 L478.52,230.50 L478.77,230.89 L479.02,231.27 L479.27,231.63 L479.52,231.99 L479.77,232.33 L480.02,232.67 L480.27,232.99 L480.52,233.30 L480.77,233.60 L481.03,233.88 L481.28,234.16 L481.53,234.43 L481.78,234.68 L482.03,234.93 L482.28,235.16 L482.53,235.39 L482.78,235.60 L483.03,235.80 L483.28,236.00 L483.53,236.18 L483.78,236.35 L484.03,236.52 L484.29,236.67 L484.54,236.81 L484.79,236.95 L485.04,237.07 L485.29,237.19 L485.54,237.29 L485.79,237.39 L486.04,237.48 L486.29,237.56 L486.54,237.63 L486.79,237.69 L487.04,237.75 L487.30,237.79 L487.55,237.84 L487.80,237.87 L488.05,237.90 L488.30,237.92 L488.55,237.94 L488.80,237.96" stroke="#180c3c"/>
</g>
<line x1="74" y1="263.40" x2="79" y2="263.40" stroke="#000" stroke-width="1.1" stroke-opacity="0.75"/>
<line x1="74" y1="220.78" x2="79" y2="220.78" stroke="#000" stroke-width="1.1" stroke-opacity="0.75"/>
<line x1="74" y1="178.16" x2="79" y2="178.16" stroke="#000" stroke-width="1.1" stroke-opacity="0.75"/>
<line x1="74" y1="135.54" x2="79" y2="135.54" stroke="#000" stroke-width="1.1" stroke-opacity="0.75"/>
<line x1="74" y1="92.92" x2="79" y2="92.92" stroke="#000" stroke-width="1.1" stroke-opacity="0.75"/>
<line x1="74" y1="50.30" x2="79" y2="50.30" stroke="#000" stroke-width="1.1" stroke-opacity="0.75"/>
<line x1="74" y1="7.68" x2="79" y2="7.68" stroke="#000" stroke-width="1.1" stroke-opacity="0.75"/>
<text transform="translate(67.0,267.40) scale(1.0,1)" text-anchor="end" font-size="12.3" font-weight="bold">0</text>
<text transform="translate(67.0,224.78) scale(1.0,1)" text-anchor="end" font-size="12.3" font-weight="bold">0.001</text>
<text transform="translate(67.0,182.16) scale(1.0,1)" text-anchor="end" font-size="12.3" font-weight="bold">0.002</text>
<text transform="translate(67.0,139.54) scale(1.0,1)" text-anchor="end" font-size="12.3" font-weight="bold">0.003</text>
<text transform="translate(67.0,96.92) scale(1.0,1)" text-anchor="end" font-size="12.3" font-weight="bold">0.004</text>
<text transform="translate(67.0,54.30) scale(1.0,1)" text-anchor="end" font-size="12.3" font-weight="bold">0.005</text>
<text transform="translate(67.0,11.68) scale(1.0,1)" text-anchor="end" font-size="12.3" font-weight="bold">0.006</text>
<rect x="77.9" y="7.1" width="1.9" height="256.7" fill="#000"/>
<rect x="78" y="261.9" width="418.5" height="1.9" fill="#000"/>
<text x="80.9" y="282.9" text-anchor="middle" font-size="12.3" font-weight="bold">0</text>
<text transform="translate(495.2,281.6) scale(1.07,1)" text-anchor="middle" font-size="12.3" font-weight="bold">1000</text>
<text transform="translate(291.2,287.4) scale(0.865,1)" text-anchor="middle" font-size="14.4" font-weight="bold">Time</text>
<text transform="translate(13,124) rotate(-90)" text-anchor="middle" font-size="12" font-weight="bold">Frequency</text>

<line x1="527.8" y1="49.4" x2="546.8" y2="49.4" stroke="#f00000" stroke-width="3"/><text transform="translate(563.2,53.7) scale(0.935,1)" font-size="13.2" font-weight="bold">ax, by</text>
<line x1="527.8" y1="74.4" x2="546.8" y2="74.4" stroke="#1a44aa" stroke-width="3"/><text transform="translate(563.2,77.6) scale(0.935,1)" font-size="13.2" font-weight="bold">ay, bx</text>
<line x1="527.8" y1="97.3" x2="546.8" y2="97.3" stroke="#180c3c" stroke-width="3"/><text transform="translate(563.2,101.5) scale(0.935,1)" font-size="13.2" font-weight="bold">axy, bxy, abx, aby</text>
<line x1="528.8" y1="121.3" x2="547.8" y2="121.3" stroke="#00802a" stroke-width="3"/><text transform="translate(563.2,125.6) scale(0.935,1)" font-size="13.2" font-weight="bold">abxy</text>
</svg>
</body></html>
